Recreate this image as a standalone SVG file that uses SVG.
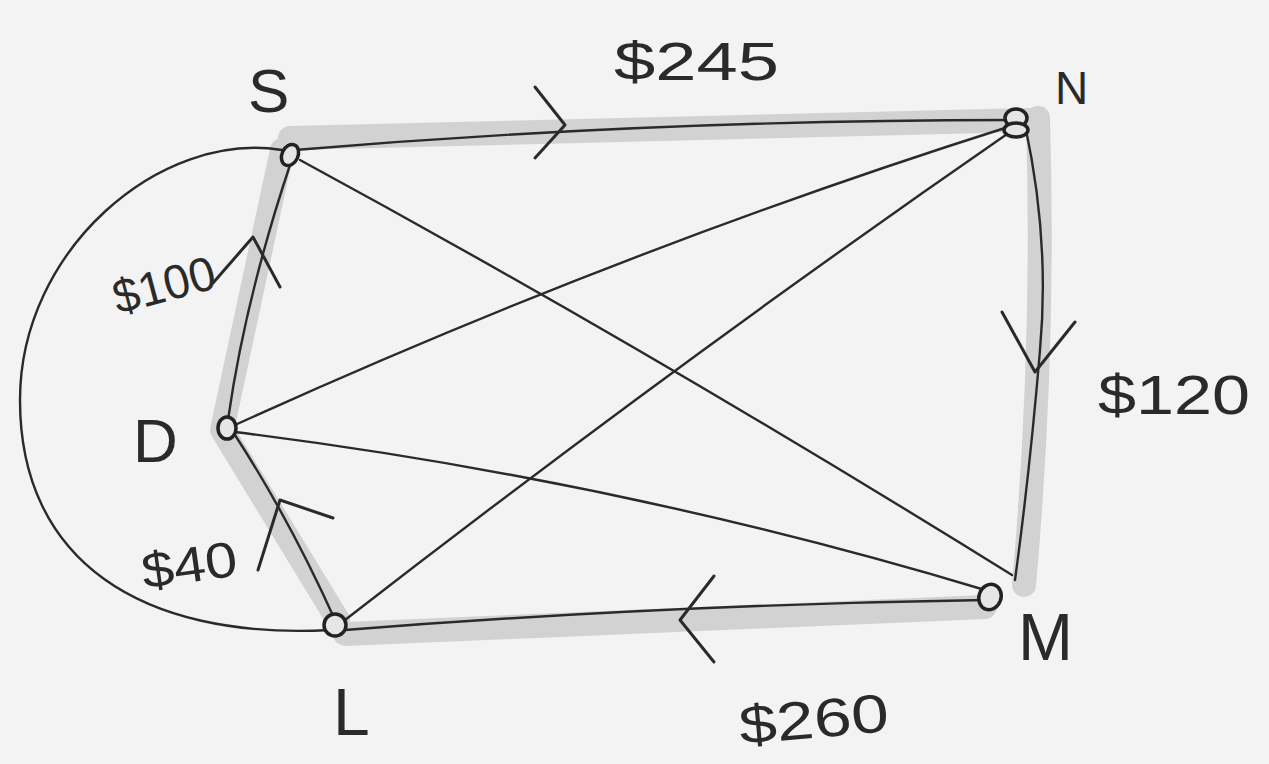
<svg xmlns="http://www.w3.org/2000/svg" width="1269" height="764" viewBox="0 0 1269 764">
<style>
.hl{fill:none;stroke:#d2d2d2;stroke-width:24;stroke-linecap:round;stroke-linejoin:round}
.e{fill:none;stroke:#2a2a2a;stroke-width:2.4;stroke-linecap:round}
.a{fill:none;stroke:#2a2a2a;stroke-width:3;stroke-linecap:round;stroke-linejoin:round}
.n{fill:#e6e6e6;stroke:#222;stroke-width:3.5}
.t{font-family:"Liberation Sans",sans-serif;font-weight:300;fill:#2a2a2a}
</style>
<rect width="1269" height="764" fill="#f3f3f3"/>
<g id="highlights">
<path class="hl" d="M290,138 L1030,120"/>
<path class="hl" d="M1038,118 Q1045,350 1024,585"/>
<path class="hl" d="M985,607 L345,634"/>
<path class="hl" d="M338,620 L222,430 L282,150"/>
</g>
<g id="connectors">
<path class="e" d="M295,150 Q650,120 1010,120"/>
<path class="e" d="M300,160 Q650,350 1012,575"/>
<path class="e" d="M282,150 C160,130 20,250 20,400 C20,560 140,640 330,630"/>
<path class="e" d="M235,425 Q620,250 1005,128"/>
<path class="e" d="M235,432 Q620,480 985,590"/>
<path class="e" d="M345,620 Q680,360 1010,132"/>
<path class="e" d="M228,420 Q245,300 290,165"/>
<path class="e" d="M235,435 Q290,520 335,620"/>
<path class="e" d="M345,630 Q660,605 985,600"/>
<path class="e" d="M1025,125 Q1050,240 1040,350 Q1030,470 1015,580"/>
<path class="a" d="M535,87 L565,125 L535,158"/>
<path class="a" d="M1002,312 L1035,372 L1075,322"/>
<path class="a" d="M714,576 L680,620 L714,662"/>
<path class="a" d="M258,570 L280,500 L333,518"/>
<path class="a" d="M213,283 L253,237 L280,287"/>
</g>
<g id="S"><ellipse class="n" cx="290" cy="155" rx="8" ry="11" transform="rotate(25 290 155)"/><text class="t" x="248" y="112" font-size="62">S</text></g>
<g id="N"><ellipse class="n" cx="1016" cy="118" rx="11" ry="9"/><ellipse class="n" cx="1016" cy="130" rx="12" ry="7" fill="none"/><text class="t" x="1055" y="104" font-size="46">N</text></g>
<g id="D"><ellipse class="n" cx="227" cy="428" rx="9" ry="11"/><text class="t" x="133" y="462" font-size="62">D</text></g>
<g id="L"><ellipse class="n" cx="335" cy="625" rx="11" ry="11"/><text class="t" x="333" y="735" font-size="66">L</text></g>
<g id="M"><ellipse class="n" cx="990" cy="597" rx="11" ry="13" transform="rotate(20 990 597)"/><text class="t" x="1018" y="660" font-size="66">M</text></g>
<g id="labels">
<text class="t" x="614" y="80" font-size="54" textLength="165" lengthAdjust="spacingAndGlyphs">$245</text>
<text class="t" x="1098" y="414" font-size="56" textLength="152" lengthAdjust="spacingAndGlyphs">$120</text>
<text class="t" x="108" y="302" font-size="48" textLength="104" lengthAdjust="spacingAndGlyphs" transform="rotate(-15 160 270)">$100</text>
<text class="t" x="140" y="582" font-size="50" textLength="96" lengthAdjust="spacingAndGlyphs" transform="rotate(-8 190 555)">$40</text>
<text class="t" x="738" y="738" font-size="54" textLength="150" lengthAdjust="spacingAndGlyphs" transform="rotate(-5 810 710)">$260</text>
</g>
</svg>
